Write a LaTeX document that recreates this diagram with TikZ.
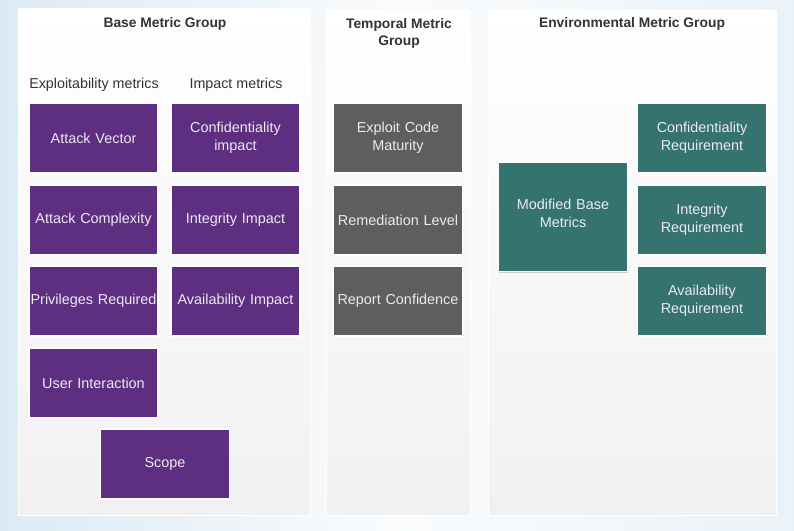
\documentclass[tikz,border=0pt]{standalone}
\usepackage{fontspec}
\setmainfont{Liberation Sans}
\usetikzlibrary{shadows}
\definecolor{bgblue}{HTML}{DCEAF4}
\definecolor{panelgray}{HTML}{F1F1F1}
\definecolor{basepurple}{HTML}{5E2F80}
\definecolor{tempgray}{HTML}{5F5E5E}
\definecolor{envteal}{HTML}{35736F}
\definecolor{boxtext}{HTML}{EEE8F2}
\definecolor{titletext}{HTML}{333333}
\tikzset{
every picture/.style={x=0.03cm, y=-0.03cm, line width=0.8pt},
%%%%%%%%%%  Panel styles
panel/.style={top color=white, bottom color=panelgray, draw=white,
              drop shadow={shadow xshift=0.5pt, shadow yshift=-0.8pt,
                           opacity=0.25}},
title/.style={text=titletext, font=\fontsize{11.8}{14.5}\selectfont\bfseries,
              align=center},
subtitle/.style={text=titletext, font=\fontsize{12.2}{14.5}\selectfont},
%%%%%%%%%%  Metric boxes
metric/.style={draw=white, line width=1pt, minimum width=3.87cm,
               minimum height=2.1cm, text width=3.85cm, align=center,
               inner sep=0pt, text=boxtext,
               font=\fontsize{12.3}{15.5}\selectfont,
               drop shadow={shadow xshift=0.6pt, shadow yshift=-1pt,
                            opacity=0.35}},
base/.style={metric, fill=basepurple},
temporal/.style={metric, fill=tempgray},
env/.style={metric, fill=envteal}
}

\begin{document}
\begin{tikzpicture}
\useasboundingbox (0,0) rectangle (794,530);
\shade[left color=bgblue, right color=bgblue!60, middle color=white!85!bgblue]
  (0,0) rectangle (794,530);
% panels
\node[panel, inner sep=0, minimum width=8.76cm, minimum height=15.18cm]
  (basepanel) at (164,262) {};
\node[panel, inner sep=0, minimum width=4.32cm, minimum height=15.12cm]
  (temppanel) at (398,263) {};
\node[panel, inner sep=0, minimum width=8.64cm, minimum height=15.12cm]
  (envpanel) at (632,263) {};
% titles
\node[title] (basetitle) at (165,24) {Base Metric Group};
\node[title] (temptitle) at (399,33) {Temporal Metric\\Group};
\node[title] (envtitle) at (632,24) {Environmental Metric Group};
\node[subtitle] (exploit) at (94,85) {Exploitability metrics};
\node[subtitle] (impact) at (236,85) {Impact metrics};
% base metric group
\node[base] (av) at (93.5,138) {Attack Vector};
\node[base] (ac) at (93.5,220) {Attack Complexity};
\node[base] (pr) at (93.5,301) {Privileges Required};
\node[base] (ui) at (93.5,383) {User Interaction};
\node[base] (ci) at (235.5,138) {Confidentiality\\impact};
\node[base] (ii) at (235.5,220) {Integrity Impact};
\node[base] (ai) at (235.5,301) {Availability Impact};
\node[base] (scope) at (165,464) {Scope};
% temporal metric group
\node[temporal] (ecm) at (398,138) {Exploit Code\\Maturity};
\node[temporal] (rl) at (398,220) {Remediation Level};
\node[temporal] (rc) at (398,301) {Report Confidence};
% environmental metric group
\node[env, minimum height=3.27cm] (mbm) at (563,217)
  {Modified Base\\Metrics\\[-9pt]\mbox{}};
\node[env] (cr) at (702,138) {Confidentiality\\Requirement};
\node[env] (ir) at (702,220) {Integrity\\Requirement};
\node[env] (ar) at (702,301) {Availability\\Requirement};
\end{tikzpicture}
\end{document}
